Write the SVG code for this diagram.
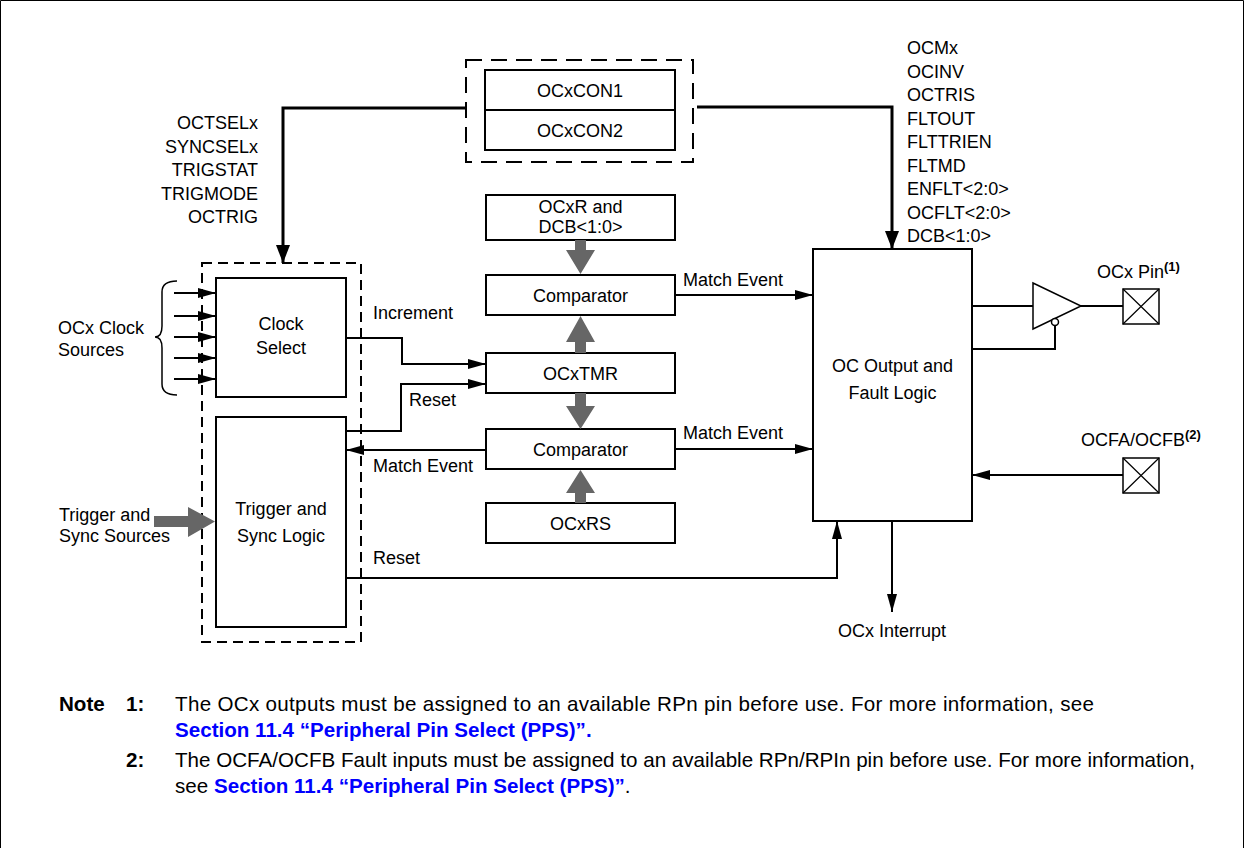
<svg xmlns="http://www.w3.org/2000/svg" width="1244" height="848" viewBox="0 0 1244 848">
<style>
text{font-family:"Liberation Sans",Arial,sans-serif;font-size:18px;fill:#000}
.c{text-anchor:middle}
.r{text-anchor:end}
.box{fill:#fff;stroke:#000;stroke-width:2}
.thin{fill:#fff;stroke:#000;stroke-width:1.5}
.dash1{fill:none;stroke:#000;stroke-width:2;stroke-dasharray:16 9}
.dash2{fill:none;stroke:#000;stroke-width:2;stroke-dasharray:10 6}
.w{fill:none;stroke:#000;stroke-width:2}
.wt{fill:none;stroke:#000;stroke-width:3}
.fat{fill:#666;stroke:none}
.n{font-size:20.6px}
.b{font-weight:bold}
.blue{fill:#0000ff;font-weight:bold}
.sup{font-size:13px;font-weight:bold}
</style>
<defs>
<marker id="a" markerUnits="userSpaceOnUse" markerWidth="18" markerHeight="10" refX="18" refY="5" orient="auto"><path d="M0,0 L18,5 L0,10 z" fill="#000"/></marker>
<marker id="ab" markerUnits="userSpaceOnUse" markerWidth="18" markerHeight="14" refX="18" refY="7" orient="auto"><path d="M0,0 L18,7 L0,14 z" fill="#000"/></marker>
</defs>
<path d="M0.5,848 V0.5 H1243.5 V848" fill="none" stroke="#000" stroke-width="1"/>

<g id="con">
<rect class="dash1" x="466" y="60" width="227" height="102"/>
<rect class="box" x="485" y="70" width="190" height="80"/>
<line x1="485" y1="110" x2="675" y2="110" stroke="#000" stroke-width="2"/>
<text class="c" x="580" y="96.5">OCxCON1</text>
<text class="c" x="580" y="136.5">OCxCON2</text>
</g>

<g id="leftlabels">
<text class="r" x="258" y="129">OCTSELx</text>
<text class="r" x="258" y="152.5">SYNCSELx</text>
<text class="r" x="258" y="176">TRIGSTAT</text>
<text class="r" x="258" y="199.5">TRIGMODE</text>
<text class="r" x="258" y="223">OCTRIG</text>
</g>

<g id="rightlabels">
<text x="907" y="54">OCMx</text>
<text x="907" y="77.5">OCINV</text>
<text x="907" y="101">OCTRIS</text>
<text x="907" y="124.5">FLTOUT</text>
<text x="907" y="148">FLTTRIEN</text>
<text x="907" y="171.5">FLTMD</text>
<text x="907" y="195">ENFLT&lt;2:0&gt;</text>
<text x="907" y="218.5">OCFLT&lt;2:0&gt;</text>
<text x="907" y="242">DCB&lt;1:0&gt;</text>
</g>

<g id="selgroup">
<rect class="dash2" x="202" y="263" width="159" height="379"/>
</g>
<g id="clocksel">
<rect class="box" x="216" y="278" width="130" height="119"/>
<text class="c" x="281" y="330">Clock</text>
<text class="c" x="281" y="354">Select</text>
</g>
<g id="trigger">
<rect class="box" x="216" y="417" width="130" height="210"/>
<text class="c" x="281" y="515">Trigger and</text>
<text class="c" x="281" y="542">Sync Logic</text>
</g>

<g id="clocksrc">
<text x="58" y="334">OCx Clock</text>
<text x="58" y="356">Sources</text>
<path d="M177,281 Q162,281 162,292 L162,326 Q162,337 155,337 Q162,337 162,348 L162,384 Q162,395 177,395" fill="none" stroke="#000" stroke-width="1.5"/>
</g>
<g id="trigsrc">
<text x="59" y="521">Trigger and</text>
<text x="59" y="542">Sync Sources</text>
</g>

<g id="ocxr">
<rect class="box" x="486" y="195" width="189" height="45"/>
<text class="c" x="580.5" y="213">OCxR and</text>
<text class="c" x="580.5" y="233">DCB&lt;1:0&gt;</text>
</g>
<g id="comp1">
<rect class="box" x="486" y="275" width="189" height="40"/>
<text class="c" x="580.5" y="301.5">Comparator</text>
</g>
<g id="tmr">
<rect class="box" x="486" y="353" width="189" height="40"/>
<text class="c" x="580.5" y="379.5">OCxTMR</text>
</g>
<g id="comp2">
<rect class="box" x="486" y="429" width="189" height="40"/>
<text class="c" x="580.5" y="455.5">Comparator</text>
</g>
<g id="ocxrs">
<rect class="box" x="486" y="503" width="189" height="40"/>
<text class="c" x="580.5" y="529.5">OCxRS</text>
</g>

<g id="ocout">
<rect class="box" x="813" y="249" width="159" height="272"/>
<text class="c" x="892.5" y="372">OC Output and</text>
<text class="c" x="892.5" y="399">Fault Logic</text>
</g>

<g id="buffer">
<polygon class="thin" points="1033,283 1081,306 1033,329"/>
<circle class="thin" cx="1055" cy="322" r="3.5"/>
</g>
<g id="ocxpin">
<rect class="thin" x="1123" y="289" width="36" height="35"/>
<path d="M1123,289 L1159,324 M1159,289 L1123,324" stroke="#000" stroke-width="1.2"/>
<text x="1097" y="278">OCx Pin<tspan class="sup" dy="-7">(1)</tspan></text>
</g>
<g id="faultpin">
<rect class="thin" x="1123" y="458" width="36" height="35"/>
<path d="M1123,458 L1159,493 M1159,458 L1123,493" stroke="#000" stroke-width="1.2"/>
<text x="1081" y="446">OCFA/OCFB<tspan class="sup" dy="-7">(2)</tspan></text>
</g>
<g id="interrupt">
<text class="c" x="892" y="637">OCx Interrupt</text>
</g>

<g id="connectors">
<polyline class="wt" points="466,108 283,108 283,263" marker-end="url(#ab)"/>
<polyline class="wt" points="697,107 892,107 892,249" marker-end="url(#ab)"/>
<line class="w" x1="174" y1="293" x2="216" y2="293" marker-end="url(#a)"/>
<line class="w" x1="174" y1="316" x2="216" y2="316" marker-end="url(#a)"/>
<line class="w" x1="174" y1="337" x2="216" y2="337" marker-end="url(#a)"/>
<line class="w" x1="174" y1="358" x2="216" y2="358" marker-end="url(#a)"/>
<line class="w" x1="174" y1="379" x2="216" y2="379" marker-end="url(#a)"/>
<polyline class="w" points="346,338 402,338 402,364 486,364" marker-end="url(#a)"/>
<polyline class="w" points="346,431 401,431 401,384 486,384" marker-end="url(#a)"/>
<line class="w" x1="486" y1="450" x2="346" y2="450" marker-end="url(#a)"/>
<polyline class="w" points="346,578 837,578 837,521" marker-end="url(#a)"/>
<line class="w" x1="675" y1="295" x2="813" y2="295" marker-end="url(#a)"/>
<line class="w" x1="675" y1="449" x2="813" y2="449" marker-end="url(#a)"/>
<line class="w" x1="972" y1="306" x2="1033" y2="306"/>
<line class="w" x1="1081" y1="306" x2="1123" y2="306"/>
<polyline class="w" points="972,349 1055,349 1055,325.5"/>
<line class="w" x1="1123" y1="475" x2="972" y2="475" marker-end="url(#a)"/>
<line class="w" x1="892" y1="521" x2="892" y2="612" marker-end="url(#a)"/>
<path class="fat" d="M575,240 H586 V250 H595 L580.5,274 L566,250 H575 Z"/>
<path class="fat" d="M575,353 H586 V342 H595 L580.5,316 L566,342 H575 Z"/>
<path class="fat" d="M575,393 H586 V406 H595 L580.5,429 L566,406 H575 Z"/>
<path class="fat" d="M575,503 H586 V493 H595 L580.5,470 L566,493 H575 Z"/>
<path class="fat" d="M154,516 H188 V507 L215,521.5 L188,537 V527 H154 Z"/>
<text x="373" y="319">Increment</text>
<text x="409" y="406">Reset</text>
<text x="373" y="472">Match Event</text>
<text x="373" y="564">Reset</text>
<text x="683" y="286">Match Event</text>
<text x="683" y="439">Match Event</text>
</g>

<g id="notes">
<text class="n b" x="59" y="711">Note</text>
<text class="n b" x="126" y="711">1:</text>
<text class="n" x="175" y="711" textLength="919" lengthAdjust="spacing">The OCx outputs must be assigned to an available RPn pin before use. For more information, see</text>
<text class="n blue" x="175" y="737">Section 11.4 “Peripheral Pin Select (PPS)”.</text>
<text class="n b" x="126" y="767">2:</text>
<text class="n" x="175" y="767" textLength="1020" lengthAdjust="spacing">The OCFA/OCFB Fault inputs must be assigned to an available RPn/RPIn pin before use. For more information,</text>
<text class="n" x="175" y="793">see <tspan class="blue">Section 11.4 “Peripheral Pin Select (PPS)”</tspan>.</text>
</g>
</svg>
